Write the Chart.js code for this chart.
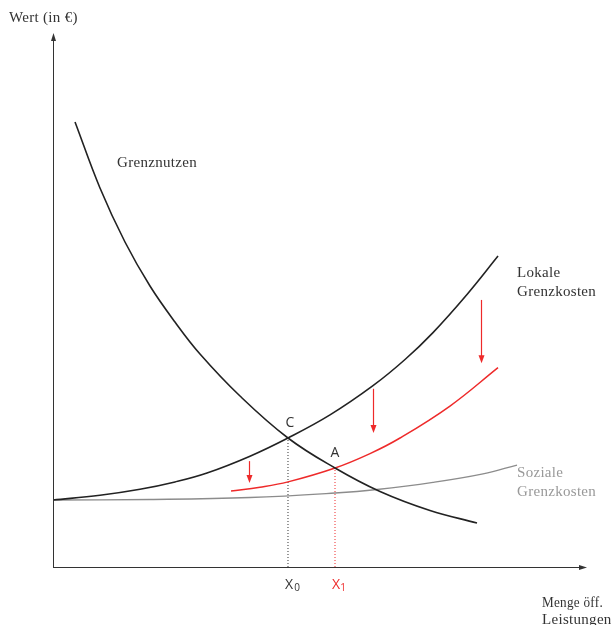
<!DOCTYPE html>
<html>
<head>
<meta charset="utf-8">
<script src="https://cdn.jsdelivr.net/npm/chart.js@4/dist/chart.umd.min.js"></script>
<style>
  html, body { margin: 0; padding: 0; background: #fff; }
  #wrap { width: 611px; height: 625px; }
</style>
</head>
<body>
<div id="wrap"><canvas id="c"></canvas></div>
<script>
// Menge (x) und Wert (y), beliebige Einheiten 0..100
const nutzenX = [4.14, 8.83, 13.53, 18.23, 22.93, 27.63, 35.15, 44.17, 53.01, 61.47, 70.86, 79.70];
const nutzenY = [83.65, 71.24, 61.09, 52.82, 46.05, 40.04, 32.14, 24.25, 18.61, 14.19, 10.62, 8.27];

const lokalX = [0, 8.83, 16.35, 22.93, 28.95, 37.03, 44.17, 52.07, 60.15, 66.17, 71.43, 77.82, 83.65];
const lokalY = [12.59, 13.48, 14.61, 15.99, 17.67, 20.83, 24.25, 28.59, 34.08, 39.00, 44.06, 51.22, 58.44];

const neuX = [33.46, 38.91, 44.17, 53.01, 59.59, 65.23, 74.62, 83.65];
const neuY = [14.29, 15.00, 16.00, 18.61, 21.32, 24.25, 30.26, 37.48];

const sozialX = [0, 18.23, 37.03, 53.01, 60.90, 71.43, 80.83, 87.22];
const sozialY = [12.59, 12.69, 13.06, 13.91, 14.57, 15.90, 17.50, 19.17];

// Gleichgewichte C (X0) und A (X1)
const punktC = [44.17, 24.25];
const punktA = [53.01, 18.61];

// Verschiebungspfeile: x, von y, bis y
const pfeilX = [36.8, 60.2, 80.5];
const pfeilVon = [19.9, 33.5, 50.2];
const pfeilBis = [15.8, 25.2, 38.3];

const rot = '#ee2a2a';
const dunkel = '#222';
const grau = '#8c8c8c';

function pts(xs, ys) { return xs.map((x, i) => ({ x: x, y: ys[i] })); }

const extras = {
  id: 'extras',
  afterDatasetsDraw(chart) {
    const { ctx, scales: { x, y } } = chart;
    const x0 = x.getPixelForValue(0), y0 = y.getPixelForValue(0);
    ctx.save();

    // Achsen
    ctx.strokeStyle = '#333';
    ctx.fillStyle = '#333';
    ctx.lineWidth = 1;
    ctx.beginPath();
    ctx.moveTo(x0 + 0.5, y0);
    ctx.lineTo(x0 + 0.5, y.getPixelForValue(100));
    ctx.moveTo(x0, y0 + 0.5);
    ctx.lineTo(x.getPixelForValue(100), y0 + 0.5);
    ctx.stroke();
    let t = y.getPixelForValue(100);
    ctx.beginPath();
    ctx.moveTo(x0 + 0.5, t - 2); ctx.lineTo(x0 - 2, t + 6); ctx.lineTo(x0 + 3, t + 6);
    ctx.fill();
    let r = x.getPixelForValue(100);
    ctx.beginPath();
    ctx.moveTo(r + 2, y0 + 0.5); ctx.lineTo(r - 6, y0 - 2); ctx.lineTo(r - 6, y0 + 3);
    ctx.fill();

    // Pfeile
    ctx.strokeStyle = rot;
    ctx.fillStyle = rot;
    ctx.lineWidth = 1.2;
    pfeilX.forEach((px, i) => {
      const xp = Math.round(x.getPixelForValue(px)) + 0.5;
      const ya = y.getPixelForValue(pfeilVon[i]);
      const yb = y.getPixelForValue(pfeilBis[i]);
      ctx.beginPath();
      ctx.moveTo(xp, ya); ctx.lineTo(xp, yb - 6);
      ctx.stroke();
      ctx.beginPath();
      ctx.moveTo(xp, yb); ctx.lineTo(xp - 3, yb - 8); ctx.lineTo(xp + 3, yb - 8);
      ctx.fill();
    });

    // Beschriftungen
    ctx.textBaseline = 'middle';
    ctx.textAlign = 'left';
    ctx.fillStyle = '#333';
    ctx.font = '15px "Liberation Serif", serif';
    ctx.letterSpacing = '0.3px';
    ctx.fillText('Wert (in \u20AC)', 9, 18, 73);
    ctx.fillText('Grenznutzen', 117, 163);
    ctx.fillText('Lokale', 517, 273);
    ctx.fillText('Grenzkosten', 517, 292);
    ctx.fillText('Menge \u00F6ff.', 542, 603, 61);
    ctx.fillText('Leistungen', 542, 620);
    ctx.fillStyle = '#999';
    ctx.fillText('Soziale', 517, 473);
    ctx.fillText('Grenzkosten', 517, 492);
    ctx.letterSpacing = '0px';

    ctx.textAlign = 'center';
    ctx.font = '14px "Open Sans", sans-serif';
    ctx.fillStyle = '#333';
    const cx = x.getPixelForValue(punktC[0]), cy = y.getPixelForValue(punktC[1]);
    ctx.fillText('C', cx + 2, cy - 15);
    const ax = x.getPixelForValue(punktA[0]), ay = y.getPixelForValue(punktA[1]);
    ctx.fillText('A', ax, ay - 15);

    ctx.fillText('X', cx + 1, y0 + 18);
    ctx.font = '10px "Open Sans", sans-serif';
    ctx.fillText('0', cx + 9, y0 + 21);
    ctx.fillStyle = rot;
    ctx.font = '14px "Open Sans", sans-serif';
    ctx.fillText('X', ax + 1, y0 + 18);
    ctx.font = '10px "Open Sans", sans-serif';
    ctx.fillText('1', ax + 8, y0 + 21);
    ctx.restore();
  }
};

new Chart(document.getElementById('c'), {
  type: 'line',
  data: {
    datasets: [
      {
        label: 'Grenznutzen',
        data: pts(nutzenX, nutzenY),
        borderColor: dunkel, borderWidth: 1.6,
        tension: 0.4, pointRadius: 0
      },
      {
        label: 'Lokale Grenzkosten',
        data: pts(lokalX, lokalY),
        borderColor: dunkel, borderWidth: 1.6,
        tension: 0.4, pointRadius: 0
      },
      {
        label: 'Neue lokale Grenzkosten',
        data: pts(neuX, neuY),
        borderColor: rot, borderWidth: 1.5,
        tension: 0.4, pointRadius: 0
      },
      {
        label: 'Soziale Grenzkosten',
        data: pts(sozialX, sozialY),
        borderColor: grau, borderWidth: 1.3,
        tension: 0.4, pointRadius: 0
      },
      {
        label: 'X0',
        data: [{ x: punktC[0], y: 0 }, { x: punktC[0], y: punktC[1] }],
        borderColor: '#333', borderWidth: 1, borderDash: [1, 2], pointRadius: 0
      },
      {
        label: 'X1',
        data: [{ x: punktA[0], y: 0 }, { x: punktA[0], y: punktA[1] }],
        borderColor: rot, borderWidth: 1, borderDash: [1, 2], pointRadius: 0
      }
    ]
  },
  options: {
    responsive: true,
    maintainAspectRatio: false,
    animation: false,
    layout: { padding: { left: 53, right: 26, top: 35, bottom: 58 } },
    plugins: { legend: { display: false }, tooltip: { enabled: false } },
    scales: {
      x: { type: 'linear', min: 0, max: 100, display: false },
      y: { type: 'linear', min: 0, max: 100, display: false }
    }
  },
  plugins: [extras]
});
</script>
</body>
</html>
